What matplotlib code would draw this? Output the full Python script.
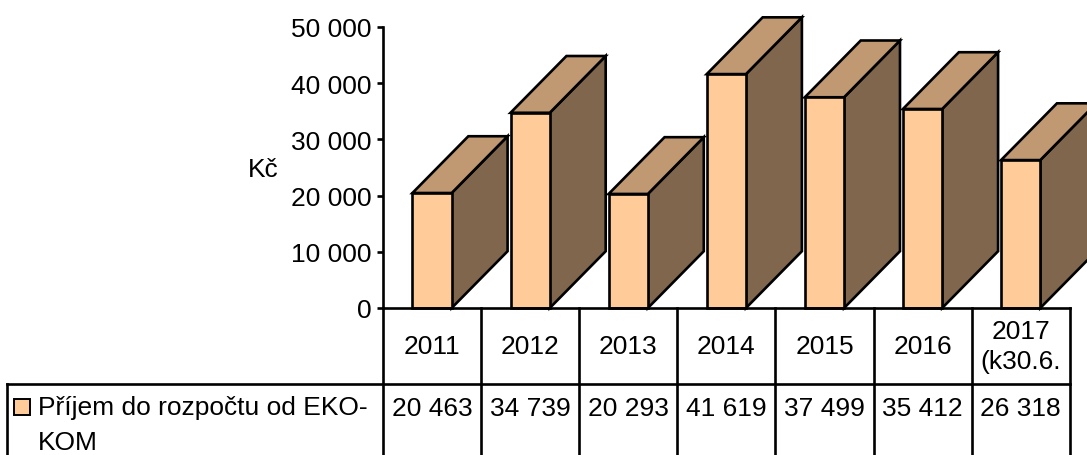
import matplotlib.pyplot as plt
from matplotlib.patches import Polygon, Rectangle
from matplotlib.ticker import FuncFormatter

plt.rcParams['font.family'] = ['Liberation Sans', 'DejaVu Sans']

# data
years = ['2011', '2012', '2013', '2014', '2015', '2016', '2017\n(k30.6.']
values = [20463, 34739, 20293, 41619, 37499, 35412, 26318]
series_name = 'Příjem do rozpočtu od EKO-\nKOM'

# colours of the 3D column faces
c_front = '#FFCC99'
c_top = '#C09872'
c_side = '#80664C'

FS = 19
LW = 1.9

W, H = 1087, 456
fig = plt.figure(figsize=(W / 100, H / 100), dpi=100)

# plot area: y axis at x=383 px, zero at y=309 px, 50 000 at y=28 px
col = 98.1  # px per category
ax = fig.add_axes([383 / W, (H - 309) / H, (W - 383) / W, (309 - 28) / H])
ax.set_xlim(-0.5, -0.5 + (W - 383) / col)
ax.set_ylim(0, 50000)

dx = 0.57    # depth offset in category units
dy = 10100   # depth offset in value units
hw = 0.2     # half width of front face
for i, v in enumerate(values):
    side = Polygon([(i + hw, 0), (i + hw + dx, dy), (i + hw + dx, v + dy), (i + hw, v)],
                   closed=True, fc=c_side, ec='black', lw=LW, clip_on=False, joinstyle='miter')
    top = Polygon([(i - hw, v), (i - hw + dx, v + dy), (i + hw + dx, v + dy), (i + hw, v)],
                  closed=True, fc=c_top, ec='black', lw=LW, clip_on=False, joinstyle='miter')
    front = Rectangle((i - hw, 0), 2 * hw, v, fc=c_front, ec='black', lw=LW,
                      clip_on=False, joinstyle='miter')
    for p in (side, top, front):
        ax.add_patch(p)

for s in ('top', 'right'):
    ax.spines[s].set_visible(False)
ax.spines['left'].set_linewidth(LW)
ax.spines['bottom'].set_linewidth(LW)
ax.spines['bottom'].set_bounds(-0.5, len(values) - 0.5)
ax.set_xticks([])
ax.set_yticks(range(0, 50001, 10000))
ax.yaxis.set_major_formatter(FuncFormatter(lambda v, p: f'{v:,.0f}'.replace(',', ' ')))
ax.tick_params(axis='y', direction='out', length=4.5, width=LW, pad=3.5, labelsize=FS)
ax.set_ylabel('Kč', rotation=0, fontsize=FS, ha='center', va='center')
ax.yaxis.set_label_coords(-0.170, 0.495)
ax.patch.set_visible(False)

# data table under the plot, y in px below the axis
tab = fig.add_axes([383 / W, 0, (W - 383) / W, (H - 309) / H])
tab.set_xlim(ax.get_xlim())
tab.set_ylim(H - 309, 0)
tab.axis('off')
n = len(values)
lk = dict(color='black', lw=LW, clip_on=False, solid_capstyle='projecting')
for k in range(n + 1):
    tab.plot([k - 0.5, k - 0.5], [0, H - 309 + 5], **lk)
row = 385 - 309
x_leg = -0.5 - (383 - 7) / col
tab.plot([x_leg, n - 0.5], [row, row], **lk)
tab.plot([x_leg, x_leg], [row, H - 309 + 5], **lk)

for i, (y, v) in enumerate(zip(years, values)):
    tab.text(i, 38, y, ha='center', va='center', fontsize=FS, linespacing=1.35)
    tab.text(i, 100, f'{v:,}'.replace(',', ' '), ha='center', va='center', fontsize=FS)

tab.add_patch(Rectangle((-0.5 - (383 - 14) / col, 91), 16 / col, 16, fc=c_front, ec='black',
                        lw=1.4, clip_on=False))
tab.text(-0.5 - (383 - 38) / col, 87, series_name, ha='left', va='top', fontsize=FS,
         linespacing=1.6)

fig.savefig('out.png', dpi=100)
